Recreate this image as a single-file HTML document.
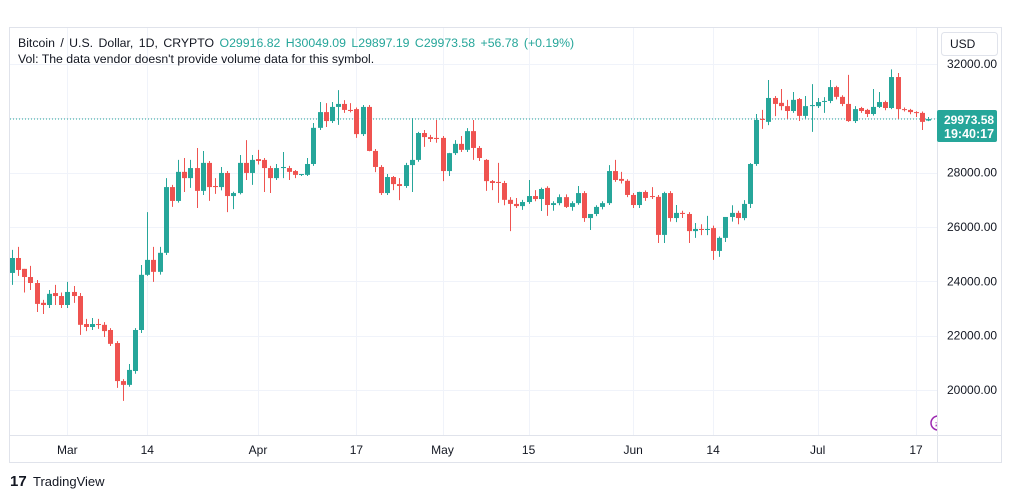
<!DOCTYPE html>
<html><head><meta charset="utf-8"><style>
body{margin:0;background:#fff;font-family:"Liberation Sans","DejaVu Sans",sans-serif;}
svg{display:block}
text{font-family:"Liberation Sans","DejaVu Sans",sans-serif}
</style></head><body>
<svg id="chart" width="1012" height="498" viewBox="0 0 1012 498">
<rect x="9.5" y="27.5" width="992" height="435" fill="#fff" stroke="#e0e3eb"/>
<g id="grid"></g>
<g><circle cx="938" cy="423" r="7" fill="#fff" stroke="#9c27b0" stroke-width="1.5"/><text x="935" y="427" font-size="9" fill="#9c27b0">≠</text></g>
<rect x="938" y="28" width="63" height="407" fill="#fff"/>
<line x1="937.5" y1="28" x2="937.5" y2="462" stroke="#e0e3eb"/>
<line x1="10" y1="435.5" x2="1001" y2="435.5" stroke="#e0e3eb"/>
<g id="candles"></g>
<g id="yaxis"></g>
<g id="xaxis"></g>
<text x="18" y="47" font-size="12.3" word-spacing="2" fill="#131722">Bitcoin / U.S. Dollar, 1D, CRYPTO <tspan fill="#26a69a">O29916.82  H30049.09  L29897.19  C29973.58  +56.78 (+0.19%)</tspan></text>
<text x="18" y="63" font-size="12.3" fill="#131722">Vol: The data vendor doesn't provide volume data for this symbol.</text>
<g><rect x="941.5" y="32.5" width="56" height="23" rx="3" fill="#fff" stroke="#e0e3eb"/><text x="950" y="48" font-size="12" fill="#131722">USD</text></g>
<g><text x="10" y="486" font-size="15" font-weight="bold" fill="#131722">17</text><text x="33" y="486" font-size="13" fill="#131722">TradingView</text></g>
</svg>
<script>
const opens=[24310,24860,24460,24160,23940,23210,23130,23570,23460,23130,23610,23460,22430,22320,22430,22400,22210,21730,20330,20190,20700,22210,24240,24790,24350,25050,27470,26960,28030,27800,28170,27330,28360,27510,27470,27990,27140,27250,28360,27990,28500,28470,28170,27800,28170,28170,28060,27920,27920,28320,29650,30230,29900,30420,30530,30310,30340,29420,30420,28800,28210,27250,27840,27580,27510,28280,28470,29460,29310,29280,29280,28060,28720,29060,28840,29530,28910,28470,27690,27660,27620,27000,26850,26770,26920,27140,27030,27440,26810,26880,27100,26740,26880,27250,26330,26480,26740,26880,28060,27770,27700,27180,26810,27290,27140,27110,25710,27250,26330,26520,26480,25850,25930,25890,25960,25120,25600,26370,26520,26330,26850,28320,29980,29870,30750,30570,30450,30270,30710,30090,30450,30450,30620,30640,31150,30790,30530,29900,30380,30310,30160,30420,30600,30380,31520,30340,30310,30230,30200,29917];
const highs=[25160,25270,24460,24570,24050,23320,23680,23870,23590,23980,23830,23570,22620,22650,22620,22500,22280,21800,20400,20960,22280,24600,26550,25270,25270,27800,27550,28470,28540,28470,28910,28800,28430,27800,28210,28060,27300,28650,29200,28650,28840,28540,28250,28320,28760,28250,28100,27950,28540,29830,30600,30560,30600,31040,30670,30560,30400,30490,30490,28870,28280,27950,27880,27800,28360,30010,29500,29570,29390,29940,29350,28730,29200,29350,29640,29940,28980,28500,27730,28360,27700,27100,27070,27000,27730,27360,27450,27500,26950,27200,27200,26950,27510,27320,26480,26800,26950,28280,28470,28030,27760,27250,27300,27350,27470,27180,27300,27320,26810,26600,26550,26150,26100,26410,26050,25650,26370,26800,26600,26990,28350,30160,30310,31410,30820,31080,30680,30970,30750,30820,31260,30750,30780,31410,31200,30850,31600,30450,30420,30350,31080,30970,30650,31800,31670,30400,30350,30260,30250,30049];
const lows=[23870,24200,23590,23680,22870,22800,23020,23130,23020,23020,23210,22030,22170,22210,22250,21950,21620,20080,19600,20120,20600,22100,24200,23980,24250,24970,26740,26900,27290,27440,26700,27180,26960,27220,27350,26550,26660,27200,27730,27550,28300,27290,27250,27730,27800,27730,27800,27880,27880,28250,29570,29680,29830,29760,30200,30220,29280,29350,28790,28020,27180,27180,27360,26990,27440,27290,28400,28950,29130,29100,27690,27880,28650,28760,28760,28470,28430,27330,27360,26890,26800,25850,26700,26630,26850,26950,26590,26410,26600,26800,26700,26600,26820,26190,25890,26400,26650,26810,27660,27600,27100,26700,26700,26960,27030,25410,25410,26200,26180,26330,25410,25600,25700,25700,24790,24900,25450,26200,26100,26250,26700,28250,29610,29750,30080,30300,29980,30200,29900,30000,29500,30380,30200,30560,30700,30450,29870,29830,30200,30050,30100,30380,30300,30340,29980,30250,30150,30050,29570,29897];
const closes=[24860,24420,24160,23940,23170,23130,23540,23460,23130,23610,23460,22400,22320,22430,22400,22170,21700,20330,20190,20740,22210,24240,24790,24350,25050,27470,26960,28030,27800,28170,27330,28360,27470,27470,27990,27140,27250,28360,27990,28470,28430,28170,27800,28170,28210,28030,27920,27950,28320,29650,30230,29900,30420,30530,30310,30270,29420,30420,28800,28210,27250,27840,27580,27510,28280,28470,29460,29310,29240,29240,28060,28720,29060,28840,29530,28910,28540,27690,27620,27620,27000,26850,26770,26920,27140,27030,27400,26810,26880,27100,26740,26880,27250,26330,26480,26740,26880,28060,27730,27700,27180,26810,27290,27070,27110,25710,27250,26330,26520,26480,25850,25930,25890,25930,25120,25600,26370,26520,26330,26850,28320,29940,29940,30750,30530,30450,30270,30680,30090,30450,30490,30600,30640,31150,30790,30530,29900,30340,30270,30160,30420,30600,30380,31520,30340,30310,30230,30200,29870,29974];
const priceTicks=[32000,28000,26000,24000,22000,20000];
const gridPrices=[32000,30000,28000,26000,24000,22000,20000];
const dateLabels=["Mar","14","Apr","17","May","15","Jun","14","Jul","17"];
const dateIndex=[9,22,40,56,70,84,101,114,131,147];
const lastPrice=29973.58;

const NS="http://www.w3.org/2000/svg";
const x0=12, step=6.15;
function xAt(i){return x0+i*step;}
function yAt(p){return 64+(32000-p)*0.02717;}
function mk(tag,attrs,parent){const e=document.createElementNS(NS,tag);for(const k in attrs)e.setAttribute(k,attrs[k]);parent.appendChild(e);return e;}
const grid=document.getElementById('grid');
gridPrices.forEach(p=>{
  const l=mk('line',{x1:10,x2:937,y1:Math.round(yAt(p))+0.5,y2:Math.round(yAt(p))+0.5,stroke:'#f0f3fa'},grid);
  
  
});
dateIndex.forEach(i=>{
  const xx=Math.round(xAt(i))+0.5;
  const l=mk('line',{x1:xx,x2:xx,y1:28,y2:435,stroke:'#f0f3fa'},grid);
  
  
});
const yl=mk('line',{x1:10,x2:937,y1:yAt(lastPrice),y2:yAt(lastPrice),stroke:'#26a69a','stroke-dasharray':'1,2'},grid);


const cg=document.getElementById('candles');
for(let i=0;i<closes.length;i++){
  const up=closes[i]>=opens[i];const col=up?'#26a69a':'#ef5350';
  const cx=Math.round(xAt(i))+0.5;
  const g=mk('g',{},cg);
  
  
  mk('line',{x1:cx,x2:cx,y1:yAt(highs[i]),y2:yAt(lows[i]),stroke:col,'stroke-width':1},g);
  const t=yAt(Math.max(opens[i],closes[i])),b=yAt(Math.min(opens[i],closes[i]));
  mk('rect',{x:cx-2.5,y:t,width:5,height:Math.max(1,b-t),fill:col},g);
}
const ya=document.getElementById('yaxis');
priceTicks.forEach(p=>{
  const t=mk('text',{x:947,y:yAt(p)+4,'font-size':12,fill:'#131722'},ya);
  t.textContent=p.toFixed(2);
  
  
});
const lb=mk('rect',{x:937,y:yAt(lastPrice)-9,width:60,height:32,rx:2,fill:'#26a69a'},ya);


const lt=mk('text',{x:944,y:yAt(lastPrice)+5,'font-size':12,'font-weight':'bold',fill:'#fff'},ya);
lt.textContent=lastPrice.toFixed(2);


const ct=mk('text',{x:944,y:yAt(lastPrice)+19,'font-size':12.5,'font-weight':'bold',fill:'#fff'},ya);
ct.textContent='19:40:17';


const xa=document.getElementById('xaxis');
dateLabels.forEach((d,k)=>{
  const t=mk('text',{x:xAt(dateIndex[k]),y:454,'font-size':12,fill:'#131722','text-anchor':'middle'},xa);
  t.textContent=d;
  
  
});
</script>
</body></html>
